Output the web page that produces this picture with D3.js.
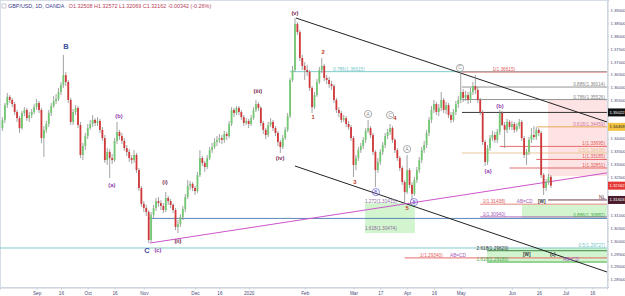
<!DOCTYPE html>
<html>
<head>
<meta charset="utf-8">
<script src="https://cdn.jsdelivr.net/npm/d3@7"></script>
<style>
  html, body { margin: 0; padding: 0; background: #fff; }
  .graphic { width: 625px; height: 296px; }
  svg { display: block; font-family: "Liberation Sans", Arial, sans-serif; }
</style>
</head>
<body>
<div class="graphic"><svg class="graphic__one"></svg></div>
<script>
// first candle date, bars are trading days (mon-fri)
const START = new Date(2019, 7, 13);

// daily candles GBP/USD  [open, high, low, close]
const ohlc = [
  [1.3441,1.3484,1.3430,1.3473],[1.3473,1.3539,1.3461,1.3531],[1.3531,1.3578,1.3520,1.3563],[1.3563,1.3570,1.3539,1.3551],
  [1.3551,1.3559,1.3523,1.3535],[1.3535,1.3543,1.3492,1.3504],[1.3504,1.3512,1.3465,1.3480],[1.3480,1.3488,1.3422,1.3441],
  [1.3441,1.3508,1.3434,1.3500],[1.3500,1.3523,1.3488,1.3512],[1.3512,1.3520,1.3469,1.3480],[1.3480,1.3504,1.3465,1.3492],
  [1.3492,1.3516,1.3480,1.3504],[1.3504,1.3535,1.3496,1.3523],[1.3523,1.3555,1.3512,1.3539],[1.3539,1.3547,1.3500,1.3512],
  [1.3512,1.3520,1.3383,1.3402],[1.3402,1.3449,1.3328,1.3434],[1.3434,1.3469,1.3422,1.3457],[1.3457,1.3512,1.3445,1.3500],
  [1.3500,1.3539,1.3488,1.3527],[1.3527,1.3566,1.3520,1.3547],[1.3547,1.3574,1.3535,1.3555],[1.3555,1.3598,1.3547,1.3582],
  [1.3582,1.3621,1.3570,1.3609],[1.3609,1.3727,1.3598,1.3648],[1.3648,1.3660,1.3605,1.3621],[1.3621,1.3629,1.3539,1.3551],
  [1.3551,1.3559,1.3453,1.3465],[1.3465,1.3516,1.3453,1.3504],[1.3504,1.3531,1.3492,1.3520],[1.3520,1.3527,1.3441,1.3453],
  [1.3453,1.3465,1.3324,1.3336],[1.3336,1.3383,1.3316,1.3371],[1.3371,1.3422,1.3355,1.3410],[1.3410,1.3457,1.3398,1.3441],
  [1.3441,1.3473,1.3434,1.3457],[1.3457,1.3492,1.3445,1.3473],[1.3473,1.3480,1.3449,1.3461],[1.3461,1.3484,1.3449,1.3469],
  [1.3469,1.3477,1.3422,1.3434],[1.3434,1.3445,1.3391,1.3402],[1.3402,1.3414,1.3305,1.3316],[1.3316,1.3363,1.3297,1.3348],
  [1.3348,1.3359,1.3246,1.3324],[1.3324,1.3340,1.3301,1.3316],[1.3316,1.3402,1.3309,1.3391],[1.3391,1.3465,1.3379,1.3426],
  [1.3426,1.3434,1.3395,1.3410],[1.3410,1.3422,1.3379,1.3391],[1.3391,1.3402,1.3352,1.3363],[1.3363,1.3375,1.3332,1.3348],
  [1.3348,1.3359,1.3309,1.3324],[1.3324,1.3336,1.3301,1.3316],[1.3316,1.3355,1.3305,1.3336],[1.3336,1.3344,1.3266,1.3277],
  [1.3277,1.3285,1.3195,1.3207],[1.3207,1.3215,1.3133,1.3145],[1.3145,1.3156,1.3113,1.3129],[1.3129,1.3141,1.3098,1.3113],
  [1.3113,1.3121,1.2992,1.3004],[1.3004,1.3113,1.2996,1.3102],[1.3102,1.3141,1.3090,1.3129],[1.3129,1.3168,1.3117,1.3156],
  [1.3156,1.3172,1.3133,1.3148],[1.3148,1.3160,1.3121,1.3137],[1.3137,1.3148,1.3109,1.3121],[1.3121,1.3191,1.3113,1.3168],
  [1.3168,1.3176,1.3141,1.3156],[1.3156,1.3164,1.3129,1.3141],[1.3141,1.3148,1.3109,1.3121],[1.3121,1.3129,1.3043,1.3055],
  [1.3055,1.3082,1.3031,1.3066],[1.3066,1.3105,1.3055,1.3094],[1.3094,1.3137,1.3082,1.3125],[1.3125,1.3184,1.3113,1.3172],
  [1.3172,1.3238,1.3164,1.3215],[1.3215,1.3234,1.3199,1.3223],[1.3223,1.3230,1.3195,1.3207],[1.3207,1.3215,1.3180,1.3195],
  [1.3195,1.3270,1.3188,1.3258],[1.3258,1.3355,1.3250,1.3324],[1.3324,1.3332,1.3293,1.3305],[1.3305,1.3313,1.3270,1.3289],
  [1.3289,1.3336,1.3281,1.3324],[1.3324,1.3367,1.3316,1.3355],[1.3355,1.3383,1.3344,1.3367],[1.3367,1.3402,1.3359,1.3387],
  [1.3387,1.3410,1.3371,1.3395],[1.3395,1.3418,1.3383,1.3402],[1.3402,1.3414,1.3379,1.3395],[1.3395,1.3430,1.3383,1.3418],
  [1.3418,1.3426,1.3395,1.3410],[1.3410,1.3469,1.3402,1.3457],[1.3457,1.3523,1.3449,1.3512],[1.3512,1.3520,1.3484,1.3500],
  [1.3500,1.3527,1.3492,1.3520],[1.3520,1.3527,1.3492,1.3504],[1.3504,1.3512,1.3473,1.3484],[1.3484,1.3492,1.3449,1.3461],
  [1.3461,1.3480,1.3453,1.3469],[1.3469,1.3477,1.3441,1.3457],[1.3457,1.3492,1.3449,1.3480],[1.3480,1.3523,1.3473,1.3512],
  [1.3512,1.3551,1.3504,1.3535],[1.3535,1.3543,1.3508,1.3520],[1.3520,1.3527,1.3449,1.3461],[1.3461,1.3469,1.3418,1.3434],
  [1.3434,1.3441,1.3398,1.3414],[1.3414,1.3465,1.3406,1.3453],[1.3453,1.3480,1.3445,1.3465],[1.3465,1.3473,1.3430,1.3441],
  [1.3441,1.3449,1.3410,1.3422],[1.3422,1.3430,1.3371,1.3387],[1.3387,1.3395,1.3344,1.3367],[1.3367,1.3414,1.3359,1.3402],
  [1.3402,1.3445,1.3395,1.3434],[1.3434,1.3500,1.3426,1.3488],[1.3488,1.3637,1.3480,1.3629],[1.3629,1.3684,1.3621,1.3668],
  [1.3668,1.3871,1.3660,1.3848],[1.3848,1.3855,1.3805,1.3816],[1.3816,1.3824,1.3703,1.3715],[1.3715,1.3727,1.3668,1.3684],
  [1.3684,1.3699,1.3629,1.3668],[1.3668,1.3688,1.3645,1.3660],[1.3660,1.3668,1.3586,1.3598],[1.3598,1.3605,1.3500,1.3523],
  [1.3523,1.3582,1.3516,1.3570],[1.3570,1.3633,1.3563,1.3621],[1.3621,1.3680,1.3613,1.3668],[1.3668,1.3715,1.3656,1.3684],
  [1.3684,1.3691,1.3625,1.3637],[1.3637,1.3648,1.3613,1.3629],[1.3629,1.3641,1.3598,1.3613],[1.3613,1.3625,1.3590,1.3605],
  [1.3605,1.3613,1.3539,1.3551],[1.3551,1.3559,1.3500,1.3512],[1.3512,1.3523,1.3484,1.3500],[1.3500,1.3508,1.3461,1.3473],
  [1.3473,1.3492,1.3465,1.3480],[1.3480,1.3488,1.3445,1.3457],[1.3457,1.3469,1.3434,1.3445],[1.3445,1.3453,1.3391,1.3402],
  [1.3402,1.3410,1.3250,1.3297],[1.3297,1.3336,1.3277,1.3324],[1.3324,1.3367,1.3313,1.3355],[1.3355,1.3383,1.3344,1.3371],
  [1.3371,1.3406,1.3359,1.3395],[1.3395,1.3441,1.3383,1.3430],[1.3430,1.3473,1.3422,1.3441],[1.3441,1.3449,1.3402,1.3414],
  [1.3414,1.3422,1.3336,1.3348],[1.3348,1.3355,1.3211,1.3277],[1.3277,1.3324,1.3266,1.3309],[1.3309,1.3359,1.3297,1.3348],
  [1.3348,1.3387,1.3336,1.3375],[1.3375,1.3422,1.3363,1.3410],[1.3410,1.3438,1.3398,1.3426],[1.3426,1.3457,1.3414,1.3441],
  [1.3441,1.3449,1.3383,1.3395],[1.3395,1.3402,1.3344,1.3355],[1.3355,1.3363,1.3313,1.3324],[1.3324,1.3332,1.3273,1.3285],
  [1.3285,1.3293,1.3219,1.3230],[1.3230,1.3238,1.3148,1.3191],[1.3191,1.3336,1.3184,1.3277],[1.3277,1.3285,1.3207,1.3219],
  [1.3219,1.3230,1.3160,1.3184],[1.3184,1.3250,1.3176,1.3238],[1.3238,1.3289,1.3227,1.3277],[1.3277,1.3328,1.3266,1.3316],
  [1.3316,1.3367,1.3305,1.3355],[1.3355,1.3391,1.3344,1.3375],[1.3375,1.3434,1.3363,1.3422],[1.3422,1.3484,1.3410,1.3473],
  [1.3473,1.3527,1.3461,1.3512],[1.3512,1.3551,1.3500,1.3535],[1.3535,1.3543,1.3492,1.3504],[1.3504,1.3535,1.3488,1.3520],
  [1.3520,1.3582,1.3508,1.3551],[1.3551,1.3559,1.3500,1.3512],[1.3512,1.3543,1.3496,1.3531],[1.3531,1.3539,1.3480,1.3492],
  [1.3492,1.3504,1.3461,1.3473],[1.3473,1.3516,1.3465,1.3504],[1.3504,1.3547,1.3492,1.3535],[1.3535,1.3566,1.3520,1.3551],
  [1.3551,1.3660,1.3539,1.3582],[1.3582,1.3594,1.3543,1.3559],[1.3559,1.3586,1.3547,1.3570],[1.3570,1.3582,1.3535,1.3551],
  [1.3551,1.3598,1.3539,1.3582],[1.3582,1.3621,1.3570,1.3605],[1.3605,1.3648,1.3574,1.3590],[1.3590,1.3602,1.3539,1.3551],
  [1.3551,1.3559,1.3492,1.3504],[1.3504,1.3512,1.3375,1.3387],[1.3387,1.3395,1.3293,1.3309],[1.3309,1.3375,1.3297,1.3363],
  [1.3363,1.3414,1.3352,1.3402],[1.3402,1.3430,1.3391,1.3414],[1.3414,1.3426,1.3383,1.3395],[1.3395,1.3438,1.3383,1.3426],
  [1.3426,1.3512,1.3414,1.3500],[1.3500,1.3508,1.3449,1.3453],[1.3453,1.3465,1.3363,1.3434],[1.3434,1.3477,1.3422,1.3465],
  [1.3465,1.3473,1.3434,1.3445],[1.3445,1.3469,1.3434,1.3457],[1.3457,1.3465,1.3422,1.3434],[1.3434,1.3461,1.3426,1.3449],
  [1.3449,1.3477,1.3438,1.3465],[1.3465,1.3473,1.3391,1.3402],[1.3402,1.3410,1.3324,1.3336],[1.3336,1.3359,1.3297,1.3348],
  [1.3348,1.3406,1.3336,1.3395],[1.3395,1.3441,1.3383,1.3414],[1.3414,1.3449,1.3395,1.3406],[1.3406,1.3445,1.3395,1.3434],
  [1.3434,1.3441,1.3410,1.3422],[1.3422,1.3430,1.3246,1.3258],[1.3258,1.3266,1.3180,1.3207],[1.3207,1.3242,1.3195,1.3230],
  [1.3230,1.3262,1.3219,1.32504],[1.32508,1.32572,1.32069,1.32162]
];

const priceTicks = [1.285, 1.29, 1.295, 1.30, 1.305, 1.31, 1.315, 1.32, 1.325, 1.33, 1.335, 1.34,
  1.345, 1.35, 1.355, 1.36, 1.365, 1.37, 1.375, 1.38, 1.385, 1.39];

const timeTicks = [
  ['Sep', '2019-09-02'], ['16', '2019-09-16'], ['Oct', '2019-10-01'], ['16', '2019-10-16'],
  ['Nov', '2019-11-01'], ['Dec', '2019-12-02'], ['16', '2019-12-16'], ['2020', '2020-01-01'],
  ['Feb', '2020-02-03'], ['Mar', '2020-03-02'], ['17', '2020-03-17'], ['Apr', '2020-04-01'],
  ['16', '2020-04-16'], ['May', '2020-05-01'], ['Jun', '2020-06-01'], ['16', '2020-06-16'],
  ['Jul', '2020-07-01'], ['16', '2020-07-16']
];

// elliott wave labels [text, bar, price, kind]
const waveLabels = [
  ['B', 26.1, 1.3756, 'cycle'], ['C', 59.3, 1.2962, 'cycle'], ['(c)', 63.8, 1.2962, 'minor'],
  ['(a)', 44.9, 1.3215, 'minor'], ['(b)', 47.8, 1.3486, 'minor'],
  ['(i)', 66.7, 1.3229, 'minute'], ['(ii)', 72.0, 1.3000, 'minute'], ['(iii)', 104.8, 1.3584, 'minute'],
  ['(iv)', 113.9, 1.3324, 'minute'], ['(v)', 120.0, 1.3889, 'minute'],
  ['1', 127.4, 1.3484, 'num'], ['2', 131.5, 1.3736, 'num'], ['3', 144.6, 1.3230, 'num'],
  ['4', 161.0, 1.3479, 'num'], ['5', 166.0, 1.3129, 'num'],
  ['(a)', 199.2, 1.3270, 'minor'], ['(b)', 204.1, 1.3525, 'minor']
];

// circled labels [text, bar, price, kind]
const circled = [
  ['A', 150.0, 1.3496, 'grey'], ['C', 159.0, 1.3492, 'grey'], ['A', 166.0, 1.3359, 'grey'],
  ['B', 153.2, 1.3191, 'violet'], ['B', 168.8, 1.3152, 'violet'], ['C', 187.7, 1.3676, 'grey']
];

// trend lines [bar0, price0, bar1, price1, kind]
const trendLines = [
  [120.4, 1.3871, 248, 1.3465, 'black'],
  [120.0, 1.3293, 248, 1.2879, 'black'],
  [60.5, 1.2992, 248, 1.3266, 'magenta']
];

// zones [bar0, bar1, priceTop, priceBottom, kind]
const zones = [
  [223.8, 248, 1.3551, 1.3254, 'pink'],
  [148.7, 169.2, 1.3148, 1.3031, 'green'],
  [213.1, 248, 1.3141, 1.3090, 'green'],
  [198.8, 248, 1.2973, 1.2914, 'green']
];

// horizontal levels [fromBar, price, lineKind, label, labelBar or null (=right side), labelKind]
const levels = [
  [118, 1.36615, 'teal', '0.786(1.36615)', 135.6, 'teal'],
  [188.5, 1.3660, 'red', '1(1.36615)', 201, 'red'],
  [188.5, 1.36014, 'grey', '0.886(1.36014)', null, 'grey'],
  [188.5, 1.35526, 'grey', '0.786(1.35526)', null, 'grey'],
  [188.5, 1.35022, 'black', '', null, 'black'],
  [219.3, 1.34459, 'orange', '0.618(1.34459)', null, 'pinktxt'],
  [188.5, 1.33438, 'tan', '0.5(1.33438)', null, 'tan'],
  [204, 1.33695, 'red', '1(1.33695)', null, 'red'],
  [219, 1.33185, 'red', '1(1.33185)', null, 'red'],
  [208, 1.32851, 'red', '1(1.32851)', null, 'red'],
  [223.8, 1.31603, 'maroon', 'NL', null, 'maroon'],
  [196, 1.31438, 'salmon', '1(1.31438)', 197, 'red'],
  [59.7, 1.30882, 'blue', '0.886(1.30882)', null, 'green'],
  [196, 1.3094, 'purple', '1(1.30940)', 197, 'purple'],
  [-1, 1.29727, 'teal', '0.5(1.29727)', null, 'teal'],
  [198.8, 1.2962, 'darkgreen', '2.618(1.29620)', 194.5, 'dark'],
  [165, 1.2934, 'red', '1(1.29340)', 171.3, 'red'],
  [198.8, 1.2918, 'green', '1.618(1.29180)', 194.5, 'green']
];

// loose text [text, bar, price, kind]
const notes = [
  ['1.272(1.31415)', 148.7, 1.3147, 'fib'], ['1.618(1.30474)', 148.7, 1.3043, 'fib'],
  ['AB=CD', 211, 1.3147, 'purple'], ['[W]', 219.7, 1.3147, 'dark'],
  ['AB=CD', 183.6, 1.2937, 'purple'], ['[W]', 213.5, 1.2943, 'dark'],
  ['(c)', 224.6, 1.2940, 'dark'], ['AB=CD', 230, 1.2920, 'purple']
];

// last-value tags on the price scale [price, kind]
const priceTags = [[1.35022, 'black'], [1.34459, 'yellow'], [1.32162, 'red'], [1.31603, 'maroon']];

const COLORS = {
  cycle: '#3d4d9a', minor: '#9440b0', minute: '#7a2b52', num: '#c0392b',
  grey: '#888', violet: '#6a5acd', black: '#222', magenta: '#cc55cc',
  teal: '#74c6c6', red: '#e25c5c', orange: '#e8a24a', tan: '#e8c48e', maroon: '#5a2236',
  salmon: '#e07a6a', blue: '#4a78b0', purple: '#a45ab8', darkgreen: '#2f7a3a', green: '#49aa4d',
  pinktxt: '#d07aa0', dark: '#333', fib: '#8a6a9a'
};
const ZONE_FILL = { pink: '#fde3e3', green: '#d2f5d0' };
const TAG_FILL = { black: '#111', yellow: '#f3c443', red: '#e53935', maroon: '#4b1c2c' };

const $chart = d3.select('.graphic');
const $svg = $chart.select('.graphic__one');

const W = 625, H = 296;
const PLOT = { right: 607, bottom: 287 };
const FONT = 4.7;
const AXIS_FONT = 4.2;

function drawChart() {
  $svg.selectAll('*').remove();
  $svg.attr('width', W).attr('height', H);

  // trading day calendar -> bar index
  const days = d3.timeDay.range(START, new Date(2020, 7, 15))
    .filter(d => d.getDay() > 0 && d.getDay() < 6);
  const parse = d3.timeParse('%Y-%m-%d');
  const barOf = s => days.findIndex(d => +d === +parse(s));

  const x = d3.scaleLinear().domain([-1, 248]).range([0, PLOT.right]);
  const y = d3.scaleLinear().domain([1.28203, 1.39414]).range([PLOT.bottom, 0]);

  const plot = $svg.append('g');
  plot.append('rect').attr('x', 0.5).attr('y', 0.5).attr('width', PLOT.right).attr('height', PLOT.bottom)
    .attr('fill', '#fff').attr('stroke', '#d6dde6');

  // zones
  plot.selectAll('.zone').data(zones).join('rect')
    .attr('x', d => x(d[0])).attr('width', d => x(d[1]) - x(d[0]))
    .attr('y', d => y(d[2])).attr('height', d => y(d[3]) - y(d[2]))
    .attr('fill', d => ZONE_FILL[d[4]]);

  // horizontal levels
  plot.selectAll('.lvl').data(levels).join('line')
    .attr('x1', d => x(d[0])).attr('x2', PLOT.right)
    .attr('y1', d => y(d[1])).attr('y2', d => y(d[1]))
    .attr('stroke', d => COLORS[d[2]]).attr('stroke-width', 0.9);

  plot.selectAll('.lvlTxt').data(levels.filter(d => d[3])).join('text')
    .attr('x', d => d[4] === null ? PLOT.right - 2 : x(d[4]))
    .attr('y', d => y(d[1]) - 1)
    .attr('text-anchor', d => d[4] === null ? 'end' : 'start')
    .attr('font-size', FONT).attr('fill', d => COLORS[d[5]])
    .text(d => d[3]);

  // trend lines
  plot.selectAll('.trend').data(trendLines).join('line')
    .attr('x1', d => x(d[0])).attr('y1', d => y(d[1]))
    .attr('x2', d => x(d[2])).attr('y2', d => y(d[3]))
    .attr('stroke', d => COLORS[d[4]]).attr('stroke-width', 1);

  // candles
  const bars = ohlc.map((d, i) => ({ i, o: d[0], h: d[1], l: d[2], c: d[3] }));
  const cg = plot.append('g');
  cg.selectAll('line').data(bars).join('line')
    .attr('x1', d => x(d.i)).attr('x2', d => x(d.i))
    .attr('y1', d => y(d.h)).attr('y2', d => y(d.l))
    .attr('stroke', '#8c8c8c').attr('stroke-width', 0.8);
  cg.selectAll('rect').data(bars).join('rect')
    .attr('x', d => x(d.i) - 0.9).attr('width', 1.8)
    .attr('y', d => y(Math.max(d.o, d.c)))
    .attr('height', d => Math.max(0.8, Math.abs(y(d.o) - y(d.c))))
    .attr('fill', d => d.c >= d.o ? '#72c872' : '#d0383a');

  // wave labels
  plot.selectAll('.wave').data(waveLabels).join('text')
    .attr('x', d => x(d[1])).attr('y', d => y(d[2]))
    .attr('text-anchor', 'middle').attr('dominant-baseline', 'middle')
    .attr('font-size', d => d[3] === 'cycle' ? 7.5 : 5.8)
    .attr('font-weight', 'bold')
    .attr('fill', d => COLORS[d[3]])
    .text(d => d[0]);

  const cl = plot.selectAll('.circ').data(circled).join('g')
    .attr('transform', d => `translate(${x(d[1])},${y(d[2])})`);
  cl.append('circle').attr('r', 3.6).attr('fill', 'none')
    .attr('stroke', d => COLORS[d[3]]).attr('stroke-width', 0.7);
  cl.append('text').attr('text-anchor', 'middle').attr('dominant-baseline', 'central')
    .attr('font-size', 4.6).attr('fill', d => COLORS[d[3]]).text(d => d[0]);

  plot.selectAll('.note').data(notes).join('text')
    .attr('x', d => x(d[1])).attr('y', d => y(d[2]))
    .attr('font-size', FONT).attr('fill', d => COLORS[d[3]])
    .attr('font-weight', d => d[3] === 'dark' ? 'bold' : null)
    .text(d => d[0]);

  // price axis, ticks hidden under the value tags are skipped
  const visibleTicks = priceTicks.filter(t => priceTags.every(p => Math.abs(y(p[0]) - y(t)) > 6));
  $svg.append('g')
    .attr('transform', `translate(${PLOT.right + 0.5},0)`)
    .call(d3.axisRight(y).tickValues(visibleTicks).tickFormat(d3.format('.5f')).tickSize(1.5).tickPadding(1.5))
    .call(g => g.select('.domain').attr('stroke', '#c8ced8'))
    .call(g => g.selectAll('.tick line').attr('stroke', '#c8ced8'))
    .call(g => g.selectAll('.tick text').attr('font-size', AXIS_FONT).attr('fill', '#4a4a78')
      .attr('font-family', '"Liberation Sans", Arial, sans-serif'));

  const tags = $svg.append('g').selectAll('g').data(priceTags).join('g')
    .attr('transform', d => `translate(${PLOT.right + 1},${y(d[0])})`);
  tags.append('rect').attr('x', 0).attr('y', -4).attr('width', 17).attr('height', 8)
    .attr('fill', d => TAG_FILL[d[1]]);
  tags.append('text').attr('x', 1.5).attr('dy', '0.35em').attr('font-size', AXIS_FONT)
    .attr('fill', d => d[1] === 'yellow' ? '#222' : '#fff')
    .text(d => d3.format('.5f')(d[0]));

  // time axis
  $svg.append('g')
    .attr('transform', `translate(0,${PLOT.bottom + 0.5})`)
    .call(d3.axisBottom(x).tickValues(timeTicks.map(t => barOf(t[1])))
      .tickFormat((d, i) => timeTicks[i][0]).tickSize(2).tickPadding(2))
    .call(g => g.select('.domain').attr('stroke', '#c8ced8'))
    .call(g => g.selectAll('.tick line').attr('stroke', '#c8ced8'))
    .call(g => g.selectAll('.tick text').attr('font-size', FONT).attr('fill', '#4a4a78')
      .attr('font-family', '"Liberation Sans", Arial, sans-serif'));

  // header
  const last = ohlc[ohlc.length - 1];
  const prevClose = ohlc[ohlc.length - 2][3];
  const chg = last[3] - prevClose;
  const head = $svg.append('text').attr('x', 8).attr('y', 8).attr('font-size', 5.4);
  head.append('tspan').attr('fill', '#3c3c8c').text('GBP/USD, 1D, OANDA');
  head.append('tspan').attr('fill', '#999').text(' \u00b7  ');
  head.append('tspan').attr('fill', '#b8405a')
    .text(`O${last[0].toFixed(5)}  H${last[1].toFixed(5)}  L${last[2].toFixed(5)}  C${last[3].toFixed(5)}  ` +
      `${chg.toFixed(5)} (${(chg / prevClose * 100).toFixed(2)}%)`);
  $svg.append('rect').attr('x', 2).attr('y', 4).attr('width', 4).attr('height', 4)
    .attr('fill', 'none').attr('stroke', '#aab').attr('stroke-width', 0.6);
}

drawChart();
</script>
</body>
</html>
